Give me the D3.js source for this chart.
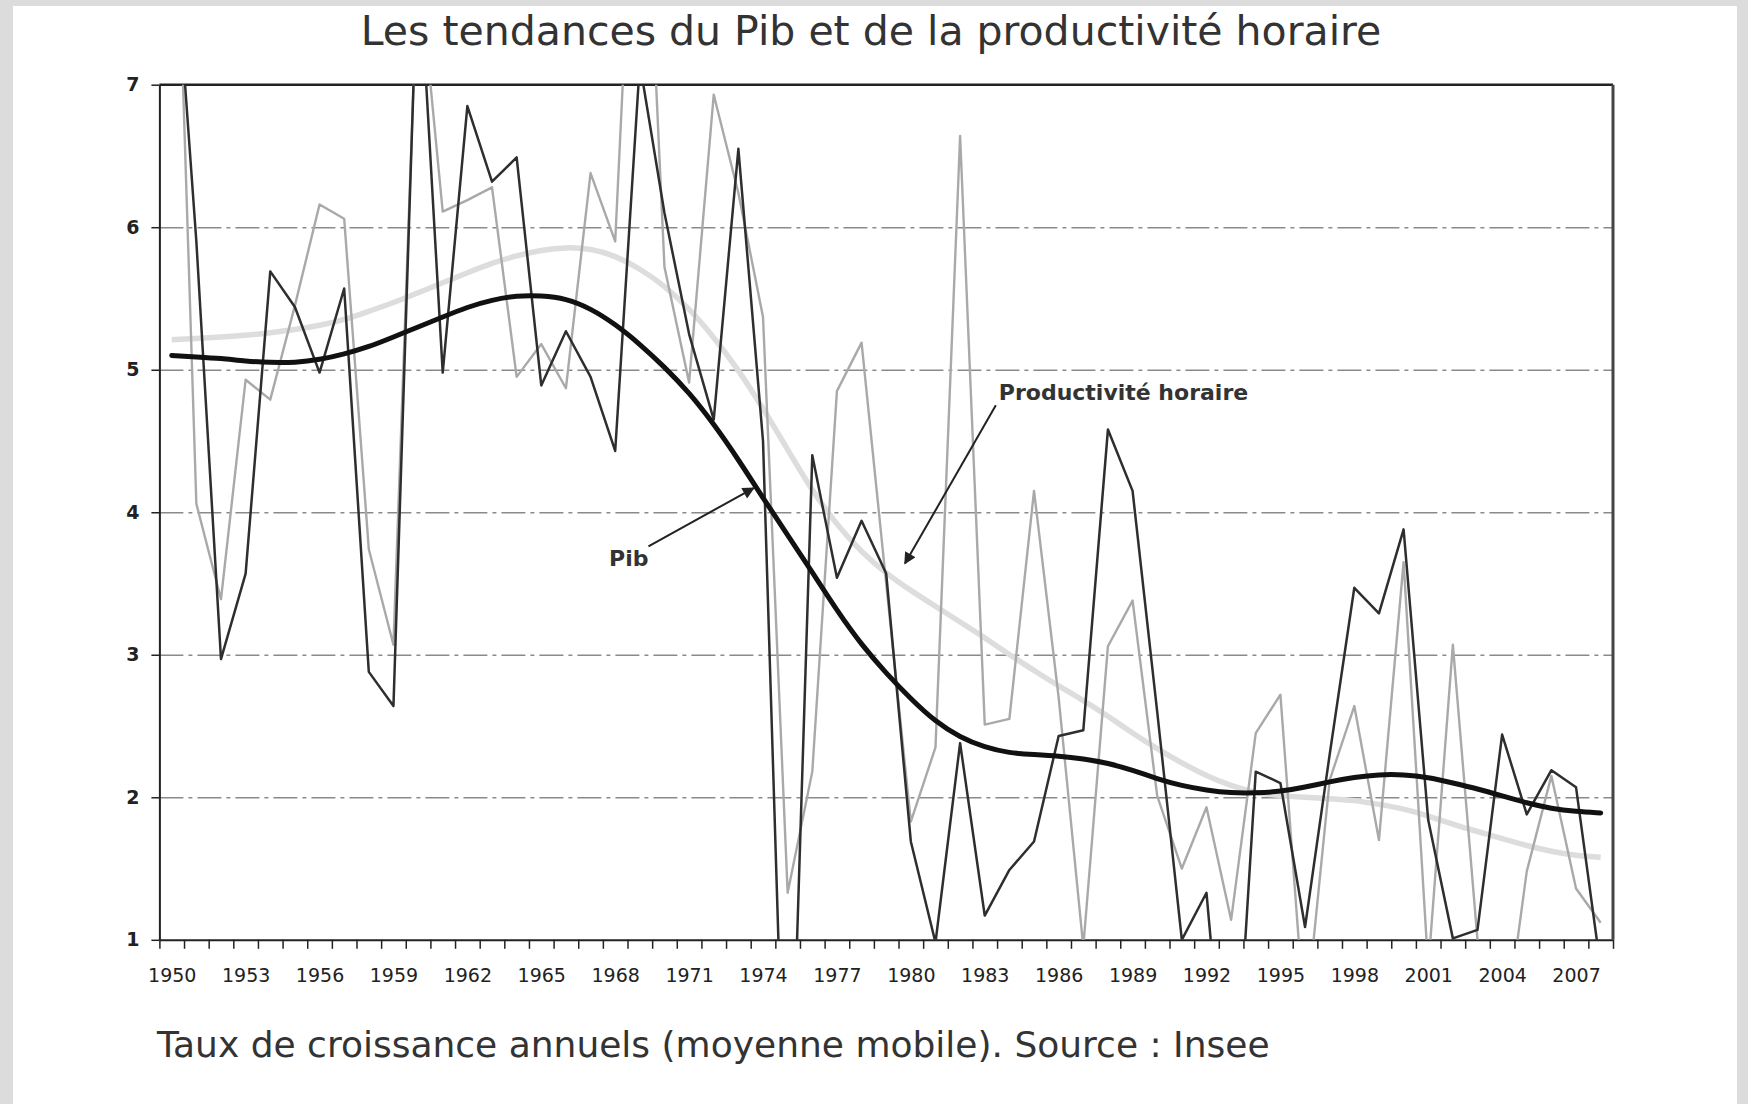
<!DOCTYPE html>
<html lang="fr">
<head>
<meta charset="utf-8">
<title>Les tendances du Pib et de la productivité horaire</title>
<script src="https://cdn.jsdelivr.net/npm/d3@7"></script>
<style>
  body { margin: 0; background: #dcdcdc; }
  #chart { width: 1748px; height: 1104px; }
  text { font-family: "DejaVu Sans", Verdana, sans-serif; }
</style>
</head>
<body>
<div id="chart"></div>
<script>
// categories
const years = d3.range(1950, 2009);
const xLabelYears = d3.range(1950, 2008, 3);
const yTicks = [1, 2, 3, 4, 5, 6, 7];

// annual growth rates (%)
const pib = [8.3, 5.9, 2.97, 3.57, 5.69, 5.44, 4.98, 5.57, 2.88, 2.64,
    8.0, 4.98, 6.85, 6.32, 6.49, 4.89, 5.27, 4.95, 4.43, 7.15,
    6.1, 5.25, 4.65, 6.55, 4.5, -1.1, 4.4, 3.54, 3.94, 3.57,
    1.69, 0.98, 2.38, 1.17, 1.49, 1.69, 2.43, 2.47, 4.58, 4.15,
    2.6, 1.0, 1.33, -0.6, 2.18, 2.10, 1.09, 2.3, 3.47, 3.29,
    3.88, 1.84, 1.01, 1.07, 2.44, 1.88, 2.19, 2.07, 0.8];

const productivite = [9.5, 4.06, 3.39, 4.93, 4.79, 5.45, 6.16, 6.06, 3.74, 3.07,
    7.9, 6.11, 6.19, 6.28, 4.95, 5.18, 4.87, 6.38, 5.90, 9.5,
    5.72, 4.91, 6.93, 6.24, 5.37, 1.33, 2.18, 4.85, 5.19, 3.5,
    1.83, 2.35, 6.64, 2.51, 2.55, 4.15, 2.7, 0.95, 3.06, 3.38,
    2.01, 1.50, 1.93, 1.14, 2.45, 2.72, 0.4, 2.12, 2.64, 1.70,
    3.65, 0.8, 3.07, 1.0, 0.2, 1.48, 2.15, 1.36, 1.12];

// smoothed trends
const pibTendance = [5.10, 5.09, 5.08, 5.06, 5.05, 5.05, 5.07, 5.11, 5.16, 5.23,
    5.30, 5.37, 5.44, 5.49, 5.52, 5.52, 5.50, 5.43, 5.32, 5.18,
    5.02, 4.84, 4.62, 4.37, 4.10, 3.84, 3.58, 3.31, 3.07, 2.87,
    2.69, 2.53, 2.42, 2.35, 2.31, 2.30, 2.29, 2.27, 2.24, 2.19,
    2.13, 2.08, 2.05, 2.03, 2.03, 2.04, 2.07, 2.11, 2.14, 2.16,
    2.16, 2.14, 2.10, 2.06, 2.01, 1.96, 1.92, 1.90, 1.89];

const productiviteTendance = [5.21, 5.22, 5.23, 5.24, 5.26, 5.28, 5.31, 5.35, 5.41, 5.47,
    5.54, 5.61, 5.68, 5.75, 5.80, 5.84, 5.86, 5.85, 5.80, 5.71,
    5.59, 5.43, 5.23, 5.00, 4.73, 4.44, 4.15, 3.91, 3.72, 3.57,
    3.45, 3.34, 3.23, 3.12, 3.00, 2.89, 2.78, 2.68, 2.57, 2.45,
    2.34, 2.24, 2.15, 2.08, 2.03, 2.01, 2.00, 1.99, 1.98, 1.95,
    1.92, 1.87, 1.81, 1.76, 1.71, 1.66, 1.62, 1.59, 1.58];

class TrendChart {

    constructor(_config) {
        this.config = {
            parentElement: _config.parentElement,
            containerWidth: 1748,
            containerHeight: 1104,
            margin: {top: 84.7, bottom: 164.2, right: 135, left: 159.4},
            title: _config.title,
            caption: _config.caption
        }
        this.initVis();
    }

    initVis() {
        let vis = this;

        vis.width = vis.config.containerWidth - vis.config.margin.left - vis.config.margin.right;
        vis.height = vis.config.containerHeight - vis.config.margin.top - vis.config.margin.bottom;

        vis.svg = d3.select(vis.config.parentElement).append('svg')
            .attr('width', vis.config.containerWidth)
            .attr('height', vis.config.containerHeight);

        // white sheet on the grey background
        vis.svg.append('rect')
            .attr('x', 13).attr('y', 6)
            .attr('width', 1724).attr('height', 1098)
            .attr('fill', '#fff');

        vis.svg.append('text')
            .attr('x', 871).attr('y', 45)
            .attr('text-anchor', 'middle')
            .attr('font-size', 41)
            .attr('fill', '#333')
            .text(vis.config.title);

        vis.svg.append('text')
            .attr('x', 157).attr('y', 1057)
            .attr('font-size', 36)
            .attr('fill', '#333')
            .text(vis.config.caption);

        vis.chart = vis.svg.append('g')
            .attr('transform', `translate(${vis.config.margin.left},${vis.config.margin.top})`);

        // scales: one category per year, points at the middle of each slot
        vis.xScale = d3.scaleLinear()
            .domain([years[0] - 0.5, years[years.length - 1] + 0.5])
            .range([0, vis.width]);

        vis.yScale = d3.scaleLinear()
            .domain([1, 7])
            .range([vis.height, 0]);

        vis.svg.append('defs').append('clipPath')
            .attr('id', 'plot-clip')
            .append('rect')
            .attr('width', vis.width)
            .attr('height', vis.height);

        vis.svg.select('defs').append('marker')
            .attr('id', 'arrow')
            .attr('viewBox', '0 0 10 10')
            .attr('refX', 9).attr('refY', 5)
            .attr('markerWidth', 18).attr('markerHeight', 12)
            .attr('markerUnits', 'userSpaceOnUse')
            .attr('orient', 'auto')
            .append('path')
            .attr('d', 'M0,0 L10,5 L0,10 z')
            .attr('fill', '#222');

        vis.updateVis();
    }

    updateVis() {
        let vis = this;
        const xValue = (d, i) => vis.xScale(years[i]);

        // dash-dot gridlines
        vis.chart.append('g')
            .attr('class', 'grid')
            .call(d3.axisLeft(vis.yScale)
                .tickValues(yTicks.slice(1, -1))
                .tickSize(-vis.width)
                .tickFormat(''))
            .call(g => g.select('.domain').remove())
            .call(g => g.selectAll('line')
                .attr('stroke', '#8a8a8a')
                .attr('stroke-width', 1.4)
                .attr('stroke-dasharray', '24,5,4,5'));

        // y axis
        vis.chart.append('g')
            .attr('class', 'axis y-axis')
            .call(d3.axisLeft(vis.yScale).tickValues(yTicks).tickSize(8).tickPadding(12)
                .tickSizeOuter(0).tickFormat(d3.format('d')))
            .call(g => g.select('.domain').attr('stroke', '#222').attr('stroke-width', 2))
            .call(g => g.selectAll('line').attr('stroke', '#222').attr('stroke-width', 1.5))
            .call(g => g.selectAll('text')
                .attr('font-size', 19)
                .attr('font-weight', 'bold')
                .attr('fill', '#222'));

        // x axis: ticks between categories, labels every 3 years
        vis.chart.append('g')
            .attr('class', 'axis x-axis')
            .attr('transform', `translate(0,${vis.height})`)
            .call(d3.axisBottom(vis.xScale)
                .tickValues(years.concat([years[years.length - 1] + 1]).map(d => d - 0.5))
                .tickSize(9).tickSizeOuter(0).tickFormat(''))
            .call(g => g.select('.domain').attr('stroke', '#222').attr('stroke-width', 2))
            .call(g => g.selectAll('line').attr('stroke', '#222').attr('stroke-width', 1.5));

        vis.chart.append('g')
            .attr('class', 'axis x-labels')
            .attr('transform', `translate(0,${vis.height})`)
            .call(d3.axisBottom(vis.xScale)
                .tickValues(xLabelYears)
                .tickSize(0).tickPadding(29).tickFormat(d3.format('d')))
            .call(g => g.select('.domain').remove())
            .call(g => g.selectAll('text')
                .attr('font-size', 19)
                .attr('fill', '#222'));

        // top and right frame
        vis.chart.append('line')
            .attr('x1', 0).attr('x2', vis.width)
            .attr('y1', vis.yScale(7)).attr('y2', vis.yScale(7))
            .attr('stroke', '#222').attr('stroke-width', 2.5);
        vis.chart.append('line')
            .attr('x1', vis.width).attr('x2', vis.width)
            .attr('y1', 0).attr('y2', vis.height)
            .attr('stroke', '#444').attr('stroke-width', 3);

        const lines = vis.chart.append('g').attr('clip-path', 'url(#plot-clip)');

        const rawLine = d3.line().x(xValue).y(d => vis.yScale(d));
        const smoothLine = d3.line().x(xValue).y(d => vis.yScale(d)).curve(d3.curveBasis);

        lines.append('path')
            .datum(productiviteTendance)
            .attr('d', smoothLine)
            .attr('fill', 'none')
            .attr('stroke', '#dddddd')
            .attr('stroke-width', 5.5);

        lines.append('path')
            .datum(productivite)
            .attr('d', rawLine)
            .attr('fill', 'none')
            .attr('stroke', '#a9a9a9')
            .attr('stroke-width', 2.4)
            .attr('stroke-linejoin', 'round');

        lines.append('path')
            .datum(pib)
            .attr('d', rawLine)
            .attr('fill', 'none')
            .attr('stroke', '#2e2e2e')
            .attr('stroke-width', 2.5)
            .attr('stroke-linejoin', 'round');

        lines.append('path')
            .datum(pibTendance)
            .attr('d', smoothLine)
            .attr('fill', 'none')
            .attr('stroke', '#111')
            .attr('stroke-width', 5)
            .attr('stroke-linecap', 'round');

        // labels with arrows, placed in year/value units
        const notes = [
            {text: 'Pib', at: [1967.75, 3.62], from: [1969.35, 3.76], to: [1973.62, 4.17]},
            {text: 'Productivité horaire', at: [1983.57, 4.79], from: [1983.45, 4.75], to: [1979.76, 3.64]}
        ];

        vis.chart.selectAll('.note-arrow')
            .data(notes)
            .join('line')
            .attr('class', 'note-arrow')
            .attr('x1', d => vis.xScale(d.from[0]))
            .attr('y1', d => vis.yScale(d.from[1]))
            .attr('x2', d => vis.xScale(d.to[0]))
            .attr('y2', d => vis.yScale(d.to[1]))
            .attr('stroke', '#222')
            .attr('stroke-width', 2)
            .attr('marker-end', 'url(#arrow)');

        vis.chart.selectAll('.note-label')
            .data(notes)
            .join('text')
            .attr('class', 'note-label')
            .attr('x', d => vis.xScale(d.at[0]))
            .attr('y', d => vis.yScale(d.at[1]))
            .attr('font-size', 22)
            .attr('font-weight', 'bold')
            .attr('fill', '#333')
            .text(d => d.text);
    }
}

new TrendChart({
    parentElement: '#chart',
    title: 'Les tendances du Pib et de la productivité horaire',
    caption: 'Taux de croissance annuels (moyenne mobile). Source : Insee'
});
</script>
</body>
</html>
